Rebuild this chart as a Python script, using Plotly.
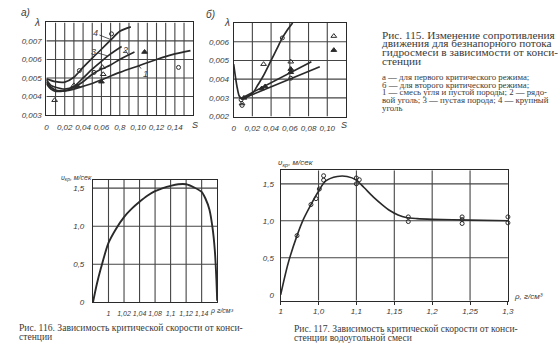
import plotly.graph_objects as go

W, H = 558, 353
def px(x): return x / W
def py(y): return 1 - y / H

# ---------------- Fig. 115 a) ----------------
a_s1 = [0, 0.005, 0.01, 0.02, 0.03, 0.04, 0.05, 0.06, 0.08, 0.10, 0.12, 0.14, 0.157]
a_l1 = [0.0047, 0.0044, 0.00428, 0.0043, 0.0044, 0.00455, 0.0047, 0.0049, 0.0053, 0.00565, 0.0060, 0.0063, 0.00648]
a_s2 = [0, 0.005, 0.01, 0.015, 0.02, 0.03, 0.04, 0.05, 0.06, 0.07, 0.08, 0.096]
a_l2 = [0.0048, 0.0045, 0.00435, 0.0043, 0.0043, 0.0045, 0.0048, 0.0052, 0.00548, 0.0057, 0.0060, 0.0064]
a_s3 = [0, 0.005, 0.01, 0.02, 0.03, 0.04, 0.05, 0.06, 0.07, 0.082]
a_l3 = [0.0049, 0.0046, 0.0045, 0.0044, 0.00455, 0.0050, 0.00548, 0.0059, 0.0063, 0.0067]
a_s4 = [0, 0.01, 0.02, 0.03, 0.04, 0.05, 0.06, 0.07, 0.08, 0.092]
a_l4 = [0.00495, 0.0048, 0.00478, 0.00504, 0.00557, 0.00607, 0.00655, 0.00704, 0.00752, 0.00776]
a_circ_s = [0.071, 0.144, 0.052, 0.036]
a_circ_l = [0.00738, 0.00557, 0.0053, 0.0054]
a_otri_s = [0.061, 0.062, 0.030, 0.009]
a_otri_l = [0.00558, 0.0052, 0.0046, 0.0038]
a_stri_s = [0.107, 0.034, 0.060]
a_stri_l = [0.0064, 0.00455, 0.0048]
a_xtick_vals = [0, 0.02, 0.04, 0.06, 0.08, 0.10, 0.12, 0.14]
a_xtick_text = ["0", "0,02", "0,04", "0,06", "0,8", "0,10", "0,12", "0,14"]
a_ytick_vals = [0.003, 0.004, 0.005, 0.006, 0.007]
a_ytick_text = ["0,003", "0,004", "0,005", "0,006", "0,007"]
a_xgrid = [0.01, 0.02, 0.03, 0.04, 0.05, 0.06, 0.07, 0.08, 0.09, 0.10, 0.11, 0.12, 0.13, 0.14, 0.15]
a_ygrid = [0.004, 0.005, 0.006, 0.007]
a_xrange = [0, 0.16]
a_yrange = [0.003, 0.008]

# ---------------- Fig. 115 б) ----------------
b_s1 = [0, 0.002, 0.004, 0.006, 0.009, 0.012, 0.016, 0.021, 0.026, 0.032, 0.04, 0.046, 0.052, 0.057, 0.063]
b_l1 = [0.0048, 0.0041, 0.0035, 0.0031, 0.00295, 0.0030, 0.0031, 0.0033, 0.0037, 0.0042, 0.0050, 0.0056, 0.0062, 0.0066, 0.0070]
b_s2 = [0.009, 0.083]
b_l2 = [0.0030, 0.00493]
b_s3 = [0.009, 0.092]
b_l3 = [0.00295, 0.00466]
b_circ_s = [0.052, 0.061, 0.008, 0.009]
b_circ_l = [0.0062, 0.00405, 0.0029, 0.0026]
b_otri_s = [0.032, 0.061, 0.009, 0.107]
b_otri_l = [0.0048, 0.00493, 0.0027, 0.0063]
b_stri_s = [0.061, 0.061, 0.0337, 0.030, 0.011, 0.107]
b_stri_l = [0.00454, 0.00437, 0.00361, 0.0035, 0.0030, 0.00555]
b_xtick_vals = [0, 0.02, 0.04, 0.06, 0.08, 0.10]
b_xtick_text = ["0", "0,02", "0,04", "0,06", "0,08", "0,10"]
b_ytick_vals = [0.002, 0.003, 0.004, 0.005, 0.006]
b_ytick_text = ["0,002", "0,003", "0,004", "0,005", "0,006"]
b_xgrid = [0.02, 0.04, 0.06, 0.08, 0.10]
b_ygrid = [0.003, 0.004, 0.005, 0.006]
b_xrange = [0, 0.12]
b_yrange = [0.002, 0.007]

# ---------------- Fig. 116 ----------------
c_rho = [0.98, 0.985, 0.99, 1.0, 1.01, 1.02, 1.03, 1.04, 1.05, 1.06, 1.07, 1.08, 1.09, 1.10, 1.11, 1.12, 1.125, 1.13, 1.134, 1.137, 1.139, 1.14]
c_v = [0, 0.24, 0.44, 0.78, 0.97, 1.12, 1.23, 1.32, 1.40, 1.46, 1.50, 1.53, 1.55, 1.55, 1.51, 1.45, 1.36, 1.22, 0.98, 0.68, 0.30, 0.02]
c_xtick_vals = [1.0, 1.02, 1.04, 1.06, 1.08, 1.10, 1.12]
c_xtick_text = ["1", "1,02", "1,04", "1,08", "1,1", "1,12", "1,14"]
c_ytick_vals = [0, 0.5, 1.0, 1.5]
c_ytick_text = ["0", "0,5", "1,0", "1,5"]
c_xgrid = [1.0, 1.02, 1.04, 1.06, 1.08, 1.10, 1.12]
c_ygrid = [0.5, 1.0, 1.5]
c_xrange = [0.98, 1.14]
c_yrange = [0, 1.61]

# ---------------- Fig. 117 ----------------
d_rho = [1.0, 1.01, 1.0216, 1.03, 1.04, 1.0488, 1.0595, 1.0747, 1.0877, 1.1, 1.11, 1.1225, 1.135, 1.144, 1.155, 1.1657, 1.18, 1.2, 1.25, 1.3]
d_v = [0.0, 0.43, 0.80, 1.02, 1.22, 1.38, 1.54, 1.60, 1.60, 1.55, 1.45, 1.32, 1.21, 1.14, 1.08, 1.045, 1.03, 1.02, 1.01, 1.0]
d_pts_rho = [1.0216, 1.040, 1.0467, 1.051, 1.0567, 1.0567, 1.0999, 1.0999, 1.1038, 1.1685, 1.1685, 1.2395, 1.2395, 1.2395, 1.3, 1.3]
d_pts_v = [0.80, 1.22, 1.30, 1.43, 1.61, 1.55, 1.58, 1.50, 1.556, 1.053, 0.99, 1.053, 1.017, 0.964, 1.053, 0.973]
d_xtick_vals = [1.0, 1.05, 1.10, 1.15, 1.20, 1.25, 1.30]
d_xtick_text = ["1", "1,0", "1,1", "1,15", "1,2", "1,25", "1,3"]
d_ytick_vals = [0, 0.5, 1.0, 1.5]
d_ytick_text = ["0", "0,5", "1,0", "1,5"]
d_xgrid = [1.05, 1.10, 1.15, 1.20, 1.25]
d_ygrid = [0.5, 1.0, 1.5]
d_xrange = [1.0, 1.3]
d_yrange = [-0.08, 1.684]

INK = "#2a2a2a"
GRID = "#454545"
TXT = "#3a3a3a"
CLEAR = "rgba(0,0,0,0)"
TICKFONT = dict(family="Liberation Sans", size=8, color=TXT, style="italic")

fig = go.Figure()

def grid(xg, yg, xr, yr, xa, ya):
    gx, gy = [], []
    for v in xg:
        gx += [v, v, None]
        gy += [yr[0], yr[1], None]
    for v in yg:
        gx += [xr[0], xr[1], None]
        gy += [v, v, None]
    fig.add_trace(go.Scatter(x=gx, y=gy, xaxis=xa, yaxis=ya, mode="lines",
                             line=dict(color=GRID, width=1.1), connectgaps=False,
                             showlegend=False, hoverinfo="skip"))

def line(x, y, xa, ya, w=1.7, shape="spline"):
    fig.add_trace(go.Scatter(x=x, y=y, xaxis=xa, yaxis=ya, mode="lines",
                             line=dict(color=INK, width=w, shape=shape, smoothing=0.8),
                             showlegend=False, hoverinfo="skip"))

def marks(x, y, xa, ya, symbol, size=5):
    fig.add_trace(go.Scatter(x=x, y=y, xaxis=xa, yaxis=ya, mode="markers",
                             marker=dict(symbol=symbol, size=size, color=INK,
                                         line=dict(color=INK, width=1)),
                             cliponaxis=False, showlegend=False, hoverinfo="skip"))

grid(a_xgrid, a_ygrid, a_xrange, a_yrange, "x", "y")
grid(b_xgrid, b_ygrid, b_xrange, b_yrange, "x2", "y2")
grid(c_xgrid, c_ygrid, c_xrange, c_yrange, "x3", "y3")
grid(d_xgrid, d_ygrid, d_xrange, d_yrange, "x4", "y4")

# a)
line(a_s1, a_l1, "x", "y")
line(a_s2, a_l2, "x", "y")
line(a_s3, a_l3, "x", "y")
line(a_s4, a_l4, "x", "y")
marks(a_circ_s, a_circ_l, "x", "y", "circle-open", 4)
marks(a_otri_s, a_otri_l, "x", "y", "triangle-up-open", 5)
marks(a_stri_s, a_stri_l, "x", "y", "triangle-up", 5)
# б)
line(b_s1, b_l1, "x2", "y2")
line(b_s2, b_l2, "x2", "y2", shape="linear")
line(b_s3, b_l3, "x2", "y2", shape="linear")
marks(b_circ_s, b_circ_l, "x2", "y2", "circle-open", 4)
marks(b_otri_s, b_otri_l, "x2", "y2", "triangle-up-open", 5)
marks(b_stri_s, b_stri_l, "x2", "y2", "triangle-up", 5)
# 116
line(c_rho, c_v, "x3", "y3", w=1.9)
# 117
line(d_rho, d_v, "x4", "y4", w=1.6)
marks(d_pts_rho, d_pts_v, "x4", "y4", "circle-open", 4)

def xax(dom, rng, vals, text, anchor, gap=4, font=TICKFONT):
    return dict(domain=[px(dom[0]), px(dom[1])], range=rng, anchor=anchor,
                tickmode="array", tickvals=vals, ticktext=text, tickfont=font,
                tickangle=0, showgrid=False, zeroline=False,
                showline=True, linecolor=INK, linewidth=1.1, mirror=True,
                ticks="outside", ticklen=gap, tickcolor=CLEAR)

def yax(dom, rng, vals, text, anchor, gap=3):
    return dict(domain=[py(dom[1]), py(dom[0])], range=rng, anchor=anchor,
                tickmode="array", tickvals=vals, ticktext=text, tickfont=TICKFONT,
                tickangle=0, showgrid=False, zeroline=False,
                showline=True, linecolor=INK, linewidth=1.1, mirror=True,
                ticks="outside", ticklen=gap, tickcolor=CLEAR)

layout = dict(
    width=W, height=H, autosize=False,
    margin=dict(l=0, r=0, t=0, b=0),
    paper_bgcolor="white", plot_bgcolor="white",
    showlegend=False,
    xaxis=xax((45, 194), a_xrange, a_xtick_vals, a_xtick_text, "y", gap=4),
    yaxis=yax((22.7, 116.7), a_yrange, a_ytick_vals, a_ytick_text, "x", gap=2),
    xaxis2=xax((235, 349), b_xrange, b_xtick_vals, b_xtick_text, "y2", gap=4),
    yaxis2=yax((23.3, 118.3), b_yrange, b_ytick_vals, b_ytick_text, "x2", gap=2),
    xaxis3=xax((92.3, 218.3), c_xrange, c_xtick_vals, c_xtick_text, "y3", gap=4,
               font=dict(family="Liberation Sans", size=7, color=TXT, style="italic")),
    yaxis3=yax((182.3, 306.7), c_yrange, c_ytick_vals, c_ytick_text, "x3", gap=6),
    xaxis4=xax((282.7, 513.3), d_xrange, d_xtick_vals, d_xtick_text, "y4", gap=4),
    yaxis4=yax((172.7, 305), d_yrange, d_ytick_vals, d_ytick_text, "x4", gap=4),
)
layout["xaxis4"]["tickcolor"] = INK
layout["xaxis4"]["ticklen"] = 3
fig.update_layout(**layout)

ann = []
def txt(x, y, s, size, family="Liberation Serif", anchor="left", italic=False, color=TXT):
    f = dict(family=family, size=size, color=color)
    if italic:
        f["style"] = "italic"
    ann.append(dict(xref="paper", yref="paper", x=px(x), y=py(y), text=s, showarrow=False,
                    xanchor=anchor, yanchor="middle", font=f))

SANS = "Liberation Sans"
# panel labels
txt(24, 13, "а)", 10, SANS, "center", True)
txt(36, 23, "λ", 10, SANS, "center", True)
txt(196, 127, "S", 9, SANS, "center", True)
txt(212, 15, "б)", 10, SANS, "center", True)
txt(228, 23, "λ", 10, SANS, "center", True)
txt(347, 127, "S", 9, SANS, "center", True)
# axis titles 116 / 117
txt(58, 181, "υ<sub>кр</sub>, м/сек", 7, SANS, "left", True)
txt(209, 315, "ρ г/см³", 7, SANS, "left", True)
txt(278, 165, "υ<sub>кр</sub>, м/сек", 8, SANS, "left", True)
txt(517, 301, "ρ, г/см³", 8, SANS, "left", True)

# curve number labels with leaders (fig 115 a)
for s, l, t, axo, ayo in [(0.0698, 0.00708, "4", -15, -6), (0.066, 0.0062, "3", -13, -4),
                          (0.090, 0.0062, "2", -4, -6), (0.101, 0.00565, "1", 6, 8)]:
    ann.append(dict(xref="x", yref="y", x=s, y=l, text=t, showarrow=True, arrowhead=0,
                    arrowwidth=0.8, arrowcolor=INK, ax=axo, ay=ayo, standoff=0,
                    font=dict(family=SANS, size=9, color=TXT, style="italic")))

# caption 115
cap = ["Рис. 115. Изменение сопротивления",
       "движения для безнапорного потока",
       "гидросмеси в зависимости от конси-",
       "стенции"]
for i, s in enumerate(cap):
    txt(383, 35 + 9 * i, s, 11.3)
small = ["а — для первого критического режима;",
         "б — для второго критического режима;",
         "1 — смесь угля и пустой породы; 2 — рядо-",
         "вой уголь; 3 — пустая порода; 4 — крупный",
         "уголь"]
for i, s in enumerate(small):
    txt(383, 78 + 7.8 * i, s, 8.8)
# caption 116
txt(15, 332, "Рис. 116. Зависимость критической скорости от конси-", 9.6)
txt(15, 341, "стенции", 9.6)
# caption 117
txt(294, 333, "Рис. 117. Зависимость критической скорости от конси-", 9.6)
txt(294, 342, "стенции водоугольной смеси", 9.6)

fig.update_layout(annotations=ann)
fig.write_html("out.html")
